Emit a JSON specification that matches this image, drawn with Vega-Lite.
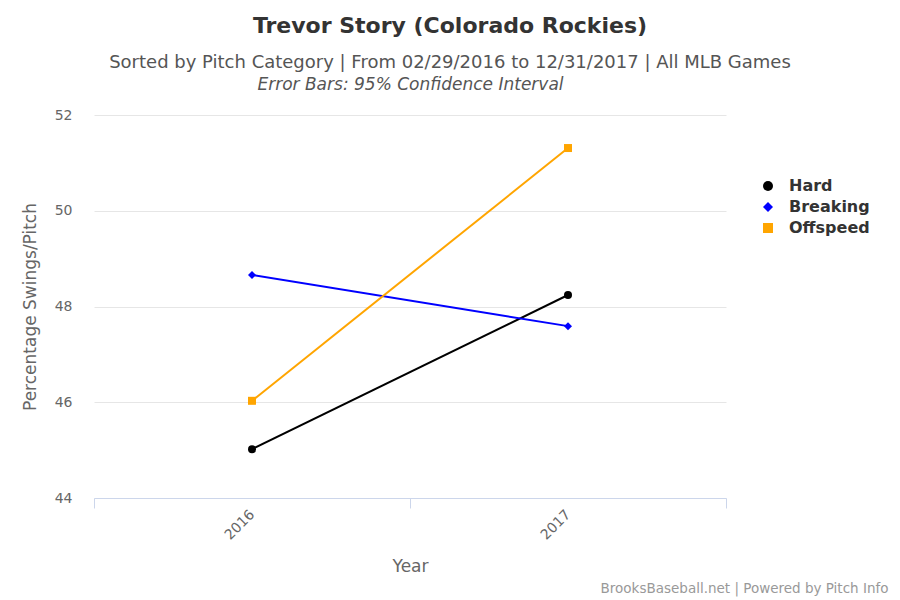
{
  "$schema": "https://vega.github.io/schema/vega-lite/v6.json",
  "width": 632,
  "height": 383,
  "autosize": "none",
  "padding": {"left": 94, "top": 115, "right": 174, "bottom": 102},
  "background": "white",
  "config": {
    "font": "DejaVu Sans",
    "view": {"stroke": null},
    "legend": {
      "orient": "none", "legendX": 666, "legendY": 63,
      "title": null, "padding": 0,
      "symbolSize": 100, "symbolStrokeWidth": 0, "symbolOpacity": 1,
      "labelFont": "DejaVu Sans", "labelFontSize": 16, "labelFontWeight": "bold",
      "labelColor": "#333333", "labelOffset": 13, "rowPadding": 5
    }
  },
  "title": {
    "text": "Trevor Story (Colorado Rockies)",
    "subtitle": "Sorted by Pitch Category | From 02/29/2016 to 12/31/2017 | All MLB Games",
    "anchor": "middle",
    "dx": 40,
    "offset": 2,
    "font": "DejaVu Sans",
    "fontSize": 22,
    "fontWeight": "bold",
    "color": "#333333",
    "subtitleFont": "DejaVu Sans",
    "subtitleFontSize": 18,
    "subtitleColor": "#555555",
    "subtitlePadding": 16
  },
  "data": {
    "values": [
      {"year": "2016", "category": "Hard", "pct": 45.02},
      {"year": "2017", "category": "Hard", "pct": 48.24},
      {"year": "2016", "category": "Breaking", "pct": 48.66},
      {"year": "2017", "category": "Breaking", "pct": 47.59},
      {"year": "2016", "category": "Offspeed", "pct": 46.03},
      {"year": "2017", "category": "Offspeed", "pct": 51.31}
    ]
  },
  "layer": [
    {
      "mark": {"type": "line", "strokeWidth": 2},
      "encoding": {
        "x": {
          "field": "year", "type": "ordinal",
          "scale": {"type": "band", "paddingInner": 0, "paddingOuter": 0},
          "bandPosition": 0.5,
          "axis": {
            "orient": "bottom",
            "title": "Year",
            "titleFontSize": 17, "titleFontWeight": "normal", "titleColor": "#666666",
            "titlePadding": 16,
            "labelAngle": -45, "labelAlign": "right", "labelBaseline": "middle",
            "labelFontSize": 14, "labelColor": "#666666", "labelPadding": 4,
            "tickBand": "extent", "tickSize": 10, "tickColor": "#ccd6eb",
            "domainColor": "#ccd6eb", "domainWidth": 1, "grid": false
          }
        },
        "y": {
          "field": "pct", "type": "quantitative",
          "scale": {"domain": [44, 52], "nice": false, "zero": false},
          "axis": {
            "values": [44, 46, 48, 50, 52],
            "title": "Percentage Swings/Pitch",
            "titleFontSize": 17, "titleFontWeight": "normal", "titleColor": "#666666",
            "titlePadding": 15,
            "labelFontSize": 14, "labelColor": "#666666", "labelPadding": 22,
            "ticks": false, "domain": false,
            "grid": true, "gridColor": "#e6e6e6", "gridWidth": 1
          }
        },
        "color": {
          "field": "category", "type": "nominal",
          "scale": {"domain": ["Hard", "Breaking", "Offspeed"], "range": ["#000000", "#0000ff", "#ffa500"]}
        }
      }
    },
    {
      "mark": {"type": "point", "filled": true, "size": 64, "opacity": 1},
      "encoding": {
        "x": {
          "field": "year", "type": "ordinal",
          "bandPosition": 0.5,
          "axis": {
            "orient": "top",
            "title": "Error Bars: 95% Confidence Interval",
            "titleFontSize": 17, "titleFontWeight": "normal", "titleFontStyle": "italic",
            "titleColor": "#555555",
            "titleY": -22,
            "labels": false, "ticks": false, "domain": false, "grid": false
          }
        },
        "y": {
          "field": "pct", "type": "quantitative",
          "axis": {
            "orient": "right",
            "title": "BrooksBaseball.net | Powered by Pitch Info",
            "titleAngle": 0, "titleFontSize": 13.5, "titleFontWeight": "normal",
            "titleColor": "#999999", "titleAlign": "right", "titleBaseline": "middle",
            "titleX": 162, "titleY": 473,
            "labels": false, "ticks": false, "domain": false, "grid": false
          }
        },
        "color": {
          "field": "category", "type": "nominal"
        },
        "shape": {
          "field": "category", "type": "nominal",
          "scale": {"domain": ["Hard", "Breaking", "Offspeed"], "range": ["circle", "diamond", "square"]}
        }
      }
    }
  ],
  "resolve": {"axis": {"x": "independent", "y": "independent"}}
}
